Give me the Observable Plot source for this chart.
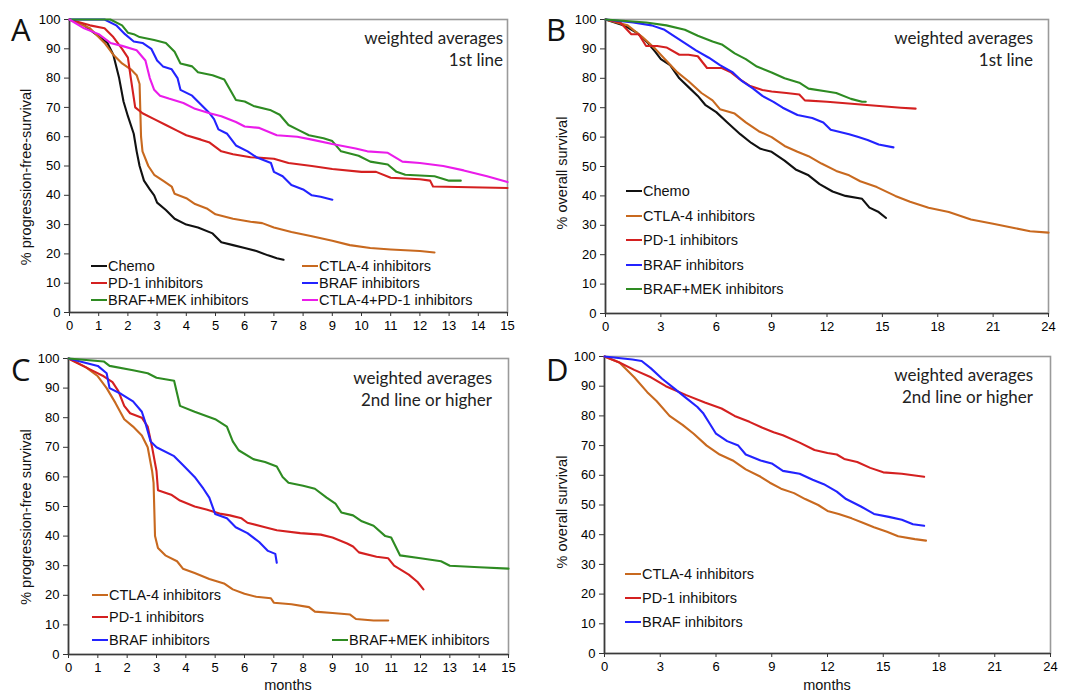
<!DOCTYPE html>
<html>
<head>
<meta charset="utf-8">
<script src="https://cdn.jsdelivr.net/npm/d3@7"></script>
<script src="https://cdn.jsdelivr.net/npm/@observablehq/plot@0.6"></script>
<style>
  html, body { margin: 0; padding: 0; background: #fff; }
  #root { position: relative; width: 1070px; height: 695px; overflow: hidden; background: #fff; }
  .panel { position: absolute; }
  .ov { position: absolute; white-space: nowrap; color: #111; }
  .letter { font-family: "Open Sans", sans-serif; font-size: 31px; line-height: 1; }
  .note { font-family: Lato, "Open Sans", sans-serif; font-size: 17px; text-align: right; line-height: 22px; color: #222; }
  .ylab { font-family: Arial, "Liberation Sans", sans-serif; font-size: 14.5px; transform: translate(-50%, -50%) rotate(-90deg); color: #111; }
  .xlab { font-family: Arial, "Liberation Sans", sans-serif; font-size: 14.5px; line-height: 1; transform: translateX(-50%); color: #111; }
  .leg { font-family: Arial, "Liberation Sans", sans-serif; font-size: 14.5px; display: flex; align-items: center; transform: translateY(-50%); color: #111; }
  .leg span.sw { display: inline-block; width: 16px; height: 2px; margin-right: 1px; }
</style>
</head>
<body>
<div id="root"></div>
<script>
// ---------- series names & colours ----------
const seriesNames = ["Chemo", "CTLA-4 inhibitors", "PD-1 inhibitors", "BRAF inhibitors", "BRAF+MEK inhibitors", "CTLA-4+PD-1 inhibitors"];
const seriesColors = ["#111111", "#c8691f", "#d42020", "#2323ff", "#2e8b22", "#ea1cea"];

// ---------- axis ticks ----------
const ticksPFS = [0,1,2,3,4,5,6,7,8,9,10,11,12,13,14,15];
const ticksOS = [0,3,6,9,12,15,18,21,24];
const ticksY = [0,10,20,30,40,50,60,70,80,90,100];

// ---------- Panel A: PFS, 1st line  [month, %] ----------
const A_chemo = [[0,100],[0.5,98],[0.9,95],[1.3,92],[1.5,88],[1.7,80],[1.85,72],[2.0,67],[2.2,61],[2.3,55],[2.4,50],[2.55,45],[2.75,42],[2.9,40],[3.0,37.5],[3.3,35],[3.6,32],[4.0,30],[4.4,29],[4.9,27],[5.2,24],[5.6,23],[6.0,22],[6.4,21],[6.8,19.5],[7.1,18.5],[7.33,18]];
const A_ctla4 = [[0,100],[0.7,97],[1.2,92],[1.5,88],[1.8,85],[2.1,83],[2.3,81],[2.4,78],[2.45,60],[2.5,55],[2.7,50],[2.9,47],[3.2,45],[3.5,43],[3.6,40.5],[4.0,39],[4.3,37],[4.7,35.5],[5.0,33.5],[5.6,32],[6.2,31],[6.6,30.5],[7.0,29],[7.6,27.5],[8.3,26],[9.0,24.5],[9.6,23],[10.3,22],[11.0,21.5],[12.0,21],[12.5,20.5]];
const A_pd1 = [[0,100],[0.7,98],[1.2,97],[1.5,94],[1.8,90],[2.0,87],[2.1,80],[2.25,70],[2.5,68],[2.9,66],[3.3,64],[3.7,62],[4.0,60.5],[4.5,59],[4.8,58],[5.2,55],[5.6,54],[6.2,53],[7.0,52.5],[7.5,51],[8.3,50],[9.0,49],[10.0,48],[10.5,48],[11.0,46],[12.0,45.5],[12.35,45],[12.45,43],[15.0,42.5]];
const A_braf = [[0,100],[1.2,100],[1.6,98],[1.9,95],[2.2,92.5],[2.5,92],[2.8,90],[3.0,86],[3.2,84],[3.5,83],[3.7,80],[3.8,76],[4.2,74],[4.5,71],[4.8,68],[4.95,66],[5.1,62.5],[5.4,61],[5.7,57],[6.1,55],[6.4,53],[6.9,51],[7.0,48],[7.3,46.5],[7.6,43.5],[8.0,42],[8.3,40],[8.6,39.5],[9.0,38.5]];
const A_brafmek = [[0,100],[1.4,100],[1.8,98],[2.0,95.5],[2.2,95],[2.4,94],[2.9,93],[3.3,92],[3.6,89],[3.8,85],[4.2,84],[4.4,82],[4.9,81],[5.3,79.5],[5.5,76],[5.7,72.5],[6.0,72],[6.3,70.5],[6.9,69],[7.2,67.5],[7.5,64],[7.9,62],[8.2,60.5],[8.7,59.5],[9.0,58.5],[9.3,55],[9.9,53.5],[10.3,51.5],[10.9,50.5],[11.2,48],[11.5,47],[12.5,46.5],[13.0,45],[13.4,45]];
const A_combo = [[0,100],[0.5,97],[1.0,95],[1.4,92],[1.8,91],[2.3,89.5],[2.6,86],[2.75,80],[2.9,76],[3.1,74],[3.4,73],[3.9,71.5],[4.3,69.5],[4.8,68],[5.2,67],[5.7,65],[6.0,63.5],[6.5,63],[7.1,60.5],[7.8,60],[8.3,59],[9.0,57.5],[9.8,56],[10.2,55],[10.9,54.5],[11.4,51.5],[12.0,51],[12.8,50],[13.5,48.5],[14.3,46.5],[15.0,44.5]];

// ---------- Panel B: OS, 1st line ----------
const B_chemo = [[0,100],[1.0,98],[1.7,95.5],[2.3,92],[2.7,89],[3.0,86.5],[3.5,84.5],[4.0,80],[4.5,77],[5.0,74],[5.4,71],[6.0,68.5],[6.6,65],[7.3,61],[7.9,58],[8.4,56],[9.0,55],[9.7,52],[10.3,49],[11.0,47],[11.6,44],[12.3,41.5],[13.0,40],[13.9,39],[14.3,36],[14.8,34.5],[15.2,32.5]];
const B_ctla4 = [[0,100],[1.2,98],[2.0,94],[2.7,90],[3.3,86],[3.9,82],[4.5,79],[5.2,75],[5.8,72.5],[6.2,69.5],[7.0,68],[7.6,65],[8.3,62],[9.0,60],[9.7,57],[10.4,55],[11.0,53.5],[11.7,51],[12.5,48.5],[13.2,47],[13.8,45],[14.7,43],[15.7,40],[16.5,38],[17.5,36],[18.6,34.5],[19.8,32],[21.0,30.5],[22.2,29],[23.0,28],[24.0,27.5]];
const B_pd1 = [[0,100],[0.8,99],[1.4,95],[1.8,95],[2.2,91],[2.8,91],[3.3,90.5],[4.0,88],[4.5,88],[5.0,87.5],[5.5,83.5],[6.3,83.5],[6.8,82],[7.2,80],[7.8,77.5],[8.5,76],[9.0,75.5],[9.8,75],[10.5,74.5],[10.8,72.5],[12.0,72],[14.0,71],[16.0,70],[16.8,69.7]];
const B_braf = [[0,100],[1.5,99],[2.5,98],[3.2,96.5],[3.8,94],[4.3,92],[4.9,89.5],[5.6,87],[6.2,84.5],[6.9,82],[7.4,79],[8.0,76.5],[8.5,74],[9.1,72],[9.6,70],[10.4,67.5],[11.2,66.5],[11.8,65],[12.2,62.5],[13.2,61],[13.7,60],[14.2,59],[14.8,57.5],[15.6,56.5]];
const B_brafmek = [[0,100],[2.2,99],[3.3,98],[4.3,96.5],[5.0,94.5],[5.8,92.5],[6.3,91.5],[7.0,88.5],[7.6,86.5],[8.2,84],[9.0,82],[9.7,80],[10.5,78.5],[11.0,76.5],[12.0,75.5],[12.5,75],[13.3,73],[13.9,72],[14.1,72]];

// ---------- Panel C: PFS, 2nd line or higher ----------
const C_ctla4 = [[0,100],[0.6,97],[1.0,94],[1.3,90],[1.6,85],[1.9,79.5],[2.2,77],[2.5,74],[2.7,70],[2.85,62],[2.9,58],[2.95,40],[3.05,36],[3.3,33.5],[3.7,31.5],[3.9,29],[4.3,27.5],[4.8,25.5],[5.3,24],[5.6,22],[6.0,20.5],[6.4,19.5],[6.9,19],[7.0,17.5],[7.6,17],[8.2,16],[8.4,14.5],[9.0,14],[9.6,13.5],[9.8,12],[10.4,11.5],[10.9,11.5]];
const C_pd1 = [[0,100],[0.8,96],[1.2,94],[1.5,92],[1.7,89],[1.9,84],[2.1,81.5],[2.5,80],[2.7,77],[2.85,70],[3.0,62],[3.05,55.5],[3.5,54],[3.8,52],[4.3,50],[4.7,49],[5.2,47.5],[5.5,47],[5.9,46],[6.1,44.5],[6.7,43],[7.1,42],[7.9,41],[8.6,40.5],[9.0,39.5],[9.5,37.5],[9.7,36.5],[9.9,34.5],[10.5,33],[10.9,32.5],[11.1,30],[11.6,27],[11.9,24.5],[12.1,22]];
const C_braf = [[0,100],[1.0,97.5],[1.3,95],[1.4,90],[1.8,88],[2.2,85.5],[2.5,82],[2.6,79],[2.8,72],[3.0,70],[3.6,67],[3.9,64],[4.3,60],[4.6,56],[4.8,53],[5.0,47.5],[5.4,46],[5.7,43],[6.1,41],[6.5,38],[6.8,35],[7.05,34],[7.1,31]];
const C_brafmek = [[0,100],[1.2,99],[1.4,97.5],[2.2,96],[2.7,95],[3.0,93.5],[3.6,92.5],[3.8,84],[4.3,82],[5.0,79.5],[5.4,77],[5.6,72],[5.8,69],[6.3,66],[6.7,65],[7.1,63.5],[7.3,60],[7.5,58],[8.0,57],[8.4,56],[8.8,53],[9.1,51],[9.3,48],[9.7,47],[10.0,45],[10.4,43.5],[10.8,40],[11.0,39.5],[11.3,33.5],[12.0,32.5],[12.7,31.5],[13.0,30],[14.0,29.5],[15.0,29]];

// ---------- Panel D: OS, 2nd line or higher ----------
const D_ctla4 = [[0,100],[0.8,98],[1.6,93],[2.3,88],[2.8,85],[3.5,80],[4.2,77],[4.8,74],[5.5,70],[6.2,67],[6.9,65],[7.6,62],[8.4,59.5],[8.9,57.5],[9.5,55.5],[10.2,54],[10.8,52],[11.5,50],[12.0,48],[12.6,47],[13.3,45.5],[13.9,44],[14.5,42.5],[15.2,41],[15.8,39.5],[16.7,38.5],[17.3,38]];
const D_pd1 = [[0,100],[0.8,98],[1.6,95.5],[2.5,93],[3.3,90],[4.4,87],[5.4,84.5],[6.3,82.5],[7.0,80],[7.8,78],[8.5,76],[9.1,74.5],[9.6,73.5],[10.5,71],[11.3,68.5],[12.0,67.5],[12.5,67],[12.9,65.5],[13.6,64.5],[14.3,62.5],[15.0,61],[16.0,60.5],[17.2,59.5]];
const D_braf = [[0,100],[1.5,99],[2.0,98.5],[2.5,96],[3.1,92.5],[3.8,89],[4.4,86],[5.0,83],[5.3,81],[5.7,77],[6.0,74],[6.6,71.5],[7.2,70],[7.6,67],[8.4,65],[9.0,64],[9.6,61.5],[10.5,60.5],[11.2,58.5],[11.8,57],[12.5,54.5],[13.0,52],[13.8,49.5],[14.5,47],[15.3,46],[16.0,45],[16.6,43.5],[17.2,43]];

// ---------- panel layout ----------
const panels = [
  { letter: "A", left: 0, top: 0, width: 535, height: 340, mL: 69, mR: 28, mT: 19, mB: 28, xMax: 15, xt: ticksPFS,
    ylabel: "% progression-free-survival", ylabX: 26, ylabY: 177, note: ["weighted averages", "1st line"], noteRight: 503, noteTop: 27,
    series: [["Chemo", A_chemo], ["CTLA-4 inhibitors", A_ctla4], ["PD-1 inhibitors", A_pd1], ["BRAF inhibitors", A_braf], ["BRAF+MEK inhibitors", A_brafmek], ["CTLA-4+PD-1 inhibitors", A_combo]],
    legend: [["Chemo", 91, 266], ["PD-1 inhibitors", 91, 283], ["BRAF+MEK inhibitors", 91, 300], ["CTLA-4 inhibitors", 302, 266], ["BRAF inhibitors", 302, 283], ["CTLA-4+PD-1 inhibitors", 302, 300]] },
  { letter: "B", left: 535, top: 0, width: 535, height: 340, mL: 70, mR: 22, mT: 19, mB: 27, xMax: 24, xt: ticksOS,
    ylabel: "% overall survival", ylabX: 27, ylabY: 173, note: ["weighted averages", "1st line"], noteRight: 498, noteTop: 27,
    series: [["Chemo", B_chemo], ["CTLA-4 inhibitors", B_ctla4], ["PD-1 inhibitors", B_pd1], ["BRAF inhibitors", B_braf], ["BRAF+MEK inhibitors", B_brafmek]],
    legend: [["Chemo", 91, 191], ["CTLA-4 inhibitors", 91, 216], ["PD-1 inhibitors", 91, 240], ["BRAF inhibitors", 91, 265], ["BRAF+MEK inhibitors", 91, 289]] },
  { letter: "C", left: 0, top: 340, width: 535, height: 355, mL: 68, mR: 27, mT: 18, mB: 41, xMax: 15, xt: ticksPFS, xlabel: true,
    ylabel: "% progression-free survival", ylabX: 26, ylabY: 177, note: ["weighted averages", "2nd line or higher"], noteRight: 492, noteTop: 27,
    series: [["CTLA-4 inhibitors", C_ctla4], ["PD-1 inhibitors", C_pd1], ["BRAF inhibitors", C_braf], ["BRAF+MEK inhibitors", C_brafmek]],
    legend: [["CTLA-4 inhibitors", 92, 255], ["PD-1 inhibitors", 92, 277], ["BRAF inhibitors", 92, 300], ["BRAF+MEK inhibitors", 332, 300]] },
  { letter: "D", left: 535, top: 340, width: 535, height: 355, mL: 69, mR: 20, mT: 16, mB: 42, xMax: 24, xt: ticksOS, xlabel: true,
    ylabel: "% overall survival", ylabX: 27, ylabY: 172, note: ["weighted averages", "2nd line or higher"], noteRight: 498, noteTop: 24,
    series: [["CTLA-4 inhibitors", D_ctla4], ["PD-1 inhibitors", D_pd1], ["BRAF inhibitors", D_braf]],
    legend: [["CTLA-4 inhibitors", 90, 234], ["PD-1 inhibitors", 90, 258], ["BRAF inhibitors", 90, 282]] }
];

const root = document.getElementById("root");
const colorOf = name => seriesColors[seriesNames.indexOf(name)];

for (const p of panels) {
  const data = [];
  for (const [name, pts] of p.series) for (const [t, s] of pts) data.push({ name, t, s });

  const chart = Plot.plot({
    width: p.width, height: p.height,
    marginLeft: p.mL, marginRight: p.mR, marginTop: p.mT, marginBottom: p.mB,
    style: { fontFamily: 'Arial, "Liberation Sans", sans-serif', fontSize: "13px", color: "#000", background: "transparent", overflow: "visible" },
    x: { domain: [0, p.xMax] },
    y: { domain: [0, 100] },
    color: { domain: seriesNames, range: seriesColors },
    marks: [
      Plot.frame({ stroke: "#9a9a9a", strokeWidth: 1.6 }),
      Plot.axisX({ ticks: p.xt, tickSize: 4, tickPadding: 4, label: null, stroke: "#333" }),
      Plot.axisY({ ticks: ticksY, tickSize: 5, tickPadding: 4, label: null, stroke: "#333" }),
      Plot.ruleX([0], { stroke: "#3a3a3a", strokeWidth: 1.6 }),
      Plot.ruleY([0], { stroke: "#3a3a3a", strokeWidth: 1.6 }),
      Plot.line(data, { x: "t", y: "s", z: "name", stroke: "name", strokeWidth: 2.1, strokeLinejoin: "round" })
    ]
  });
  const wrap = document.createElement("div");
  wrap.className = "panel";
  wrap.style.left = p.left + "px";
  wrap.style.top = p.top + "px";
  wrap.style.width = p.width + "px";
  wrap.style.height = p.height + "px";
  wrap.appendChild(chart);

  const add = (cls, html, css) => {
    const d = document.createElement("div");
    d.className = "ov " + cls;
    d.innerHTML = html;
    Object.assign(d.style, css);
    wrap.appendChild(d);
    return d;
  };
  add("letter", p.letter, { left: "11px", top: "14px" });
  add("note", p.note.join("<br>"), { right: (p.width - p.noteRight) + "px", top: p.noteTop + "px" });
  add("ylab", p.ylabel, { left: p.ylabX + "px", top: p.ylabY + "px" });
  if (p.xlabel) {
    const cx = p.mL + (p.width - p.mL - p.mR) / 2;
    add("xlab", "months", { left: cx + "px", top: (p.height - 17) + "px" });
  }
  for (const [name, x, y] of p.legend) {
    add("leg", `<span class="sw" style="background:${colorOf(name)}"></span>${name}`, { left: x + "px", top: y + "px" });
  }
  root.appendChild(wrap);
}
</script>
</body>
</html>
